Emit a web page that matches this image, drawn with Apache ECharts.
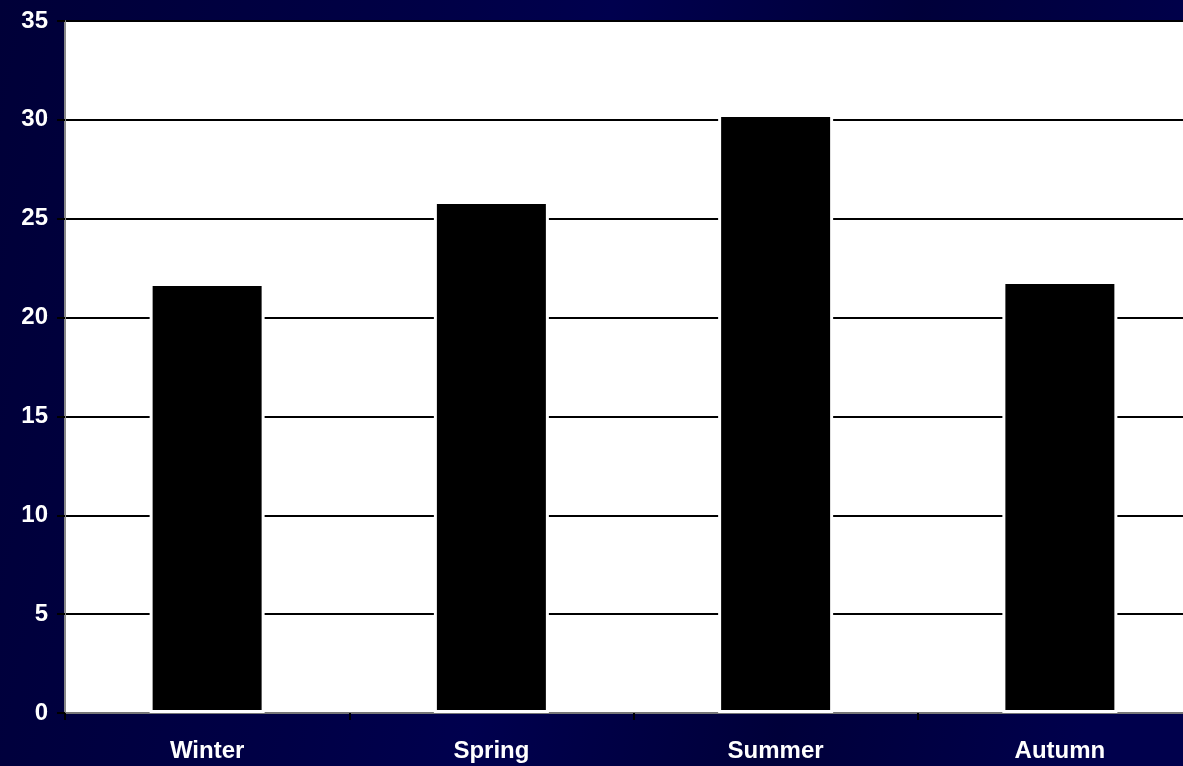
<!DOCTYPE html>
<html>
<head>
<meta charset="utf-8">
<script src="https://cdn.jsdelivr.net/npm/echarts@6/dist/echarts.min.js"></script>
<style>
html,body{margin:0;padding:0;background:#00003c;}
#chart{width:1183px;height:766px;}
</style>
</head>
<body>
<div id="chart"></div>
<script>
const categories = ['Winter', 'Spring', 'Summer', 'Autumn'];
const values = [21.75, 25.9, 30.3, 21.85];
const yTicks = { min: 0, max: 35, interval: 5 };

const chart = echarts.init(document.getElementById('chart'));
chart.setOption({
  animation: false,
  backgroundColor: {
    type: 'linear', x: 0, y: 0, x2: 1, y2: 0.3,
    colorStops: [
      { offset: 0, color: '#000038' },
      { offset: 0.35, color: '#000046' },
      { offset: 0.5, color: '#00004e' },
      { offset: 0.75, color: '#00003a' },
      { offset: 1, color: '#00004c' }
    ]
  },
  grid: {
    left: 65, top: 21, width: 1137, height: 692,
    outerBoundsMode: 'none', containLabel: false,
    show: true, backgroundColor: '#ffffff', borderColor: '#888888', borderWidth: 2
  },
  xAxis: {
    type: 'category',
    data: categories,
    axisLine: { show: true, lineStyle: { color: '#777777', width: 2 } },
    axisTick: { show: true, length: 7, lineStyle: { color: '#000000', width: 2 } },
    axisLabel: {
      color: '#ffffff', fontFamily: 'Liberation Sans, Arial, sans-serif',
      fontWeight: 'bold', fontSize: 24, margin: 26
    },
    splitLine: { show: false }
  },
  yAxis: {
    type: 'value',
    min: yTicks.min, max: yTicks.max, interval: yTicks.interval,
    axisLine: { show: true, lineStyle: { color: '#888888', width: 2 } },
    axisTick: { show: true, length: 8, lineStyle: { color: '#000000', width: 2 } },
    axisLabel: {
      color: '#ffffff', fontFamily: 'Liberation Sans, Arial, sans-serif',
      fontWeight: 'bold', fontSize: 24, margin: 17
    },
    splitLine: { show: true, lineStyle: { color: '#000000', width: 2 } }
  },
  series: [{
    type: 'bar',
    data: values,
    barWidth: 115,
    itemStyle: { color: '#000000', borderColor: '#ffffff', borderWidth: 3 },
    z: 3
  }]
});
</script>
</body>
</html>
